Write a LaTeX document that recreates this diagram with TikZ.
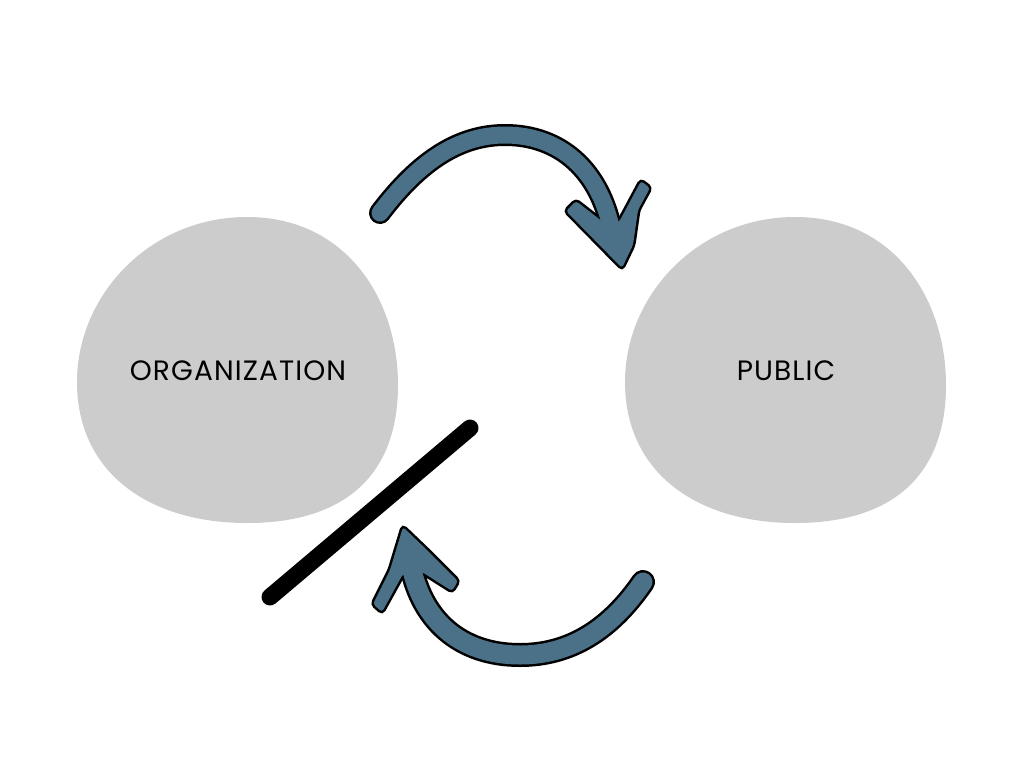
\documentclass[tikz,border=0pt]{standalone}
\usepackage{fontspec}
\setmainfont{Poppins}[LetterSpace=4]
\usetikzlibrary{calc}
\definecolor{blobgray}{HTML}{CCCCCC}
\definecolor{arrowblue}{HTML}{4A7188}
\def\blob(#1){\fill[blobgray, shift={(#1)}] (247,217) .. controls (347,217) and (398,300) .. (398,385) .. controls (398,475) and (345,523) .. (247,523) .. controls (148,523) and (77,472) .. (77,382) .. controls (77,295) and (150,217) .. (247,217) -- cycle;}

\begin{document}
\begin{tikzpicture}[x=1pt, y=-1pt]
			%%%%% START %%%%%
			\useasboundingbox[fill=white] (0,0) rectangle (1024,768);
			
			\blob(0,0)
			\blob(548,0)
			\node[font=\fontsize{28}{30}\selectfont] (org) at (238,371) {ORGANIZATION};
			\node[font=\fontsize{28}{30}\selectfont] (pub) at (786,371) {PUBLIC};
			
			\draw[line width=17pt, line cap=round] (270,597) -- (470,428);
			
			% top arrow, outline first
			\draw[line width=22pt, line cap=round] (380,213) .. controls (420,160) and (460,135) .. (505,135) .. controls (560,135) and (600,170) .. (612,232);
			\draw[line width=5pt, rounded corners=3pt, fill=black] (622,268) -- (566,211) -- (576,201) -- (603,222) -- (619,222) -- (641,181) -- (650,188) -- (638,210) -- (633,245) -- cycle;
			\draw[line width=17pt, line cap=round, arrowblue] (380,213) .. controls (420,160) and (460,135) .. (505,135) .. controls (560,135) and (600,170) .. (612,232);
			\fill[arrowblue, rounded corners=3pt] (622,268) -- (566,211) -- (576,201) -- (603,222) -- (619,222) -- (641,181) -- (650,188) -- (638,210) -- (633,245) -- cycle;
			
			% bottom arrow, outline first
			\draw[line width=24pt, line cap=round] (643,582) .. controls (610,630) and (570,655) .. (520,655) .. controls (460,655) and (420,620) .. (410,560);
			\draw[line width=5pt, rounded corners=3pt, fill=black] (403,527) -- (427,550) -- (458,581) -- (452,591) -- (422,572) -- (403,574) -- (382,612) -- (373,604) -- (390,570) -- cycle;
			\draw[line width=19pt, line cap=round, arrowblue] (643,582) .. controls (610,630) and (570,655) .. (520,655) .. controls (460,655) and (420,620) .. (410,560);
			\fill[arrowblue, rounded corners=3pt] (403,527) -- (427,550) -- (458,581) -- (452,591) -- (422,572) -- (403,574) -- (382,612) -- (373,604) -- (390,570) -- cycle;
			
			%%%%% END %%%%%
\end{tikzpicture}
\end{document}
